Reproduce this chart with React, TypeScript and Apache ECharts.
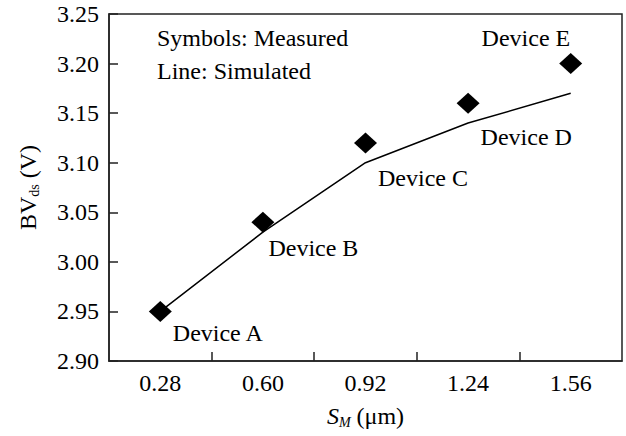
import React, { useEffect, useRef } from "react";
import * as echarts from "echarts";

const spacing = [0.28, 0.6, 0.92, 1.24, 1.56];
const measured = [2.95, 3.04, 3.12, 3.16, 3.2];
const simulated = [2.95, 3.03, 3.1, 3.14, 3.17];
const devices = ["Device A", "Device B", "Device C", "Device D", "Device E"];
const xLabelValues = [0.28, 0.6, 0.92, 1.24, 1.56];
const xTickValues = [0.44, 0.76, 1.08, 1.4];
const notes = ["Symbols: Measured", "Line: Simulated"];

const FONT = "Liberation Serif, Times New Roman, serif";
const FS = 24;

export default function App() {
  const ref = useRef<HTMLDivElement>(null);
  useEffect(() => {
    if (!ref.current) return;
    const chart = echarts.init(ref.current, null, { renderer: "svg" });
    // label placement per device (relative to symbol box)
    const labelPlace: any[] = [
      { position: [24, 32], align: "left" },
      { position: [17, 36], align: "left" },
      { position: [24, 46], align: "left" },
      { position: [24, 44], align: "left" },
      { position: [11, -15], align: "right" },
    ];
    const axisLine = { show: true, lineStyle: { color: "#222", width: 1.5 } };
    chart.setOption({
      animation: false,
      backgroundColor: "#ffffff",
      textStyle: { fontFamily: FONT },
      grid: {
        left: 109,
        right: 4,
        top: 14,
        bottom: 75,
        show: true,
        borderColor: "#222",
        borderWidth: 1.5,
      },
      xAxis: {
        type: "value",
        min: 0.12,
        max: 1.72,
        axisLine,
        splitLine: { show: false },
        axisTick: {
          show: true,
          inside: true,
          length: 9,
          customValues: xTickValues,
          lineStyle: { color: "#222", width: 1.5 },
        },
        axisLabel: {
          customValues: xLabelValues,
          formatter: (v: number) => v.toFixed(2),
          fontSize: FS,
          color: "#000",
          fontFamily: FONT,
          margin: 10,
        },
        name: "{i|S}{s|M}{n| (μm)}",
        nameLocation: "middle",
        nameGap: 42,
        nameTextStyle: {
          rich: {
            i: { fontSize: FS, fontStyle: "italic", fontFamily: FONT, color: "#000" },
            s: { fontSize: 14, fontStyle: "italic", fontFamily: FONT, color: "#000", padding: [12, 0, 0, 0] },
            n: { fontSize: FS, fontFamily: FONT, color: "#000" },
          },
        },
      },
      yAxis: {
        type: "value",
        min: 2.9,
        max: 3.25,
        interval: 0.05,
        axisLine,
        splitLine: { show: false },
        axisTick: {
          show: true,
          inside: true,
          length: 9,
          lineStyle: { color: "#222", width: 1.5 },
        },
        axisLabel: {
          formatter: (v: number) => v.toFixed(2),
          fontSize: FS,
          color: "#000",
          fontFamily: FONT,
          margin: 10,
        },
        name: "{n|BV}{s|ds}{n| (V)}",
        nameLocation: "middle",
        nameGap: 68,
        nameTextStyle: {
          rich: {
            s: { fontSize: 14, fontFamily: FONT, color: "#000", padding: [12, 0, 0, 0] },
            n: { fontSize: FS, fontFamily: FONT, color: "#000" },
          },
        },
      },
      graphic: notes.map((t, i) => ({
        type: "text",
        left: 157,
        top: 26 + i * 33,
        style: { text: t, fontSize: FS, fontFamily: FONT, fill: "#000" },
      })),
      series: [
        {
          type: "line",
          data: spacing.map((x, i) => [x, simulated[i]]),
          showSymbol: false,
          lineStyle: { color: "#000", width: 1.5 },
          z: 3,
        },
        {
          type: "scatter",
          symbol: "diamond",
          symbolSize: [23, 21],
          itemStyle: { color: "#000", opacity: 1 },
          z: 2,
          data: spacing.map((x, i) => ({
            value: [x, measured[i]],
            label: {
              show: true,
              formatter: devices[i],
              fontSize: FS,
              fontFamily: FONT,
              color: "#000",
              verticalAlign: "middle",
              ...labelPlace[i],
            },
          })),
        },
      ],
    });
    return () => chart.dispose();
  }, []);
  return (
    <div
      ref={ref}
      style={{ position: "fixed", left: 0, top: 0, width: 626, height: 436 }}
    />
  );
}
